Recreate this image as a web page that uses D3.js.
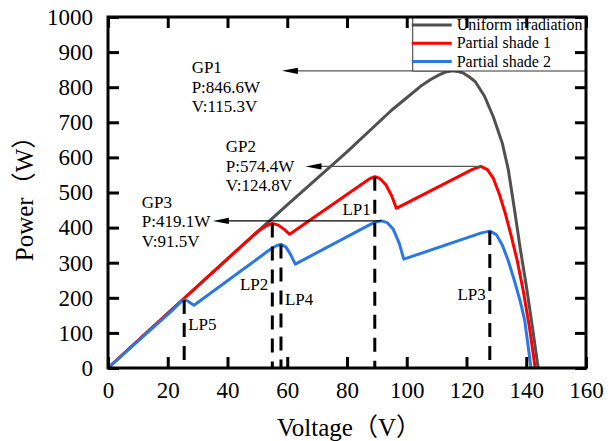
<!DOCTYPE html>
<html>
<head>
<meta charset="utf-8">
<script src="https://cdn.jsdelivr.net/npm/d3@7.9.0/dist/d3.min.js"></script>
<style>
  html, body { margin: 0; padding: 0; background: #fff; }
</style>
</head>
<body>
<svg id="chart" width="614" height="441"></svg>
<script>
// P-V curves: [voltage (V), power (W)]
const uniform = [[0,0],[20,156],[40,311],[60,465],[80,616],[95,735],[100,770],[105,805],[108,822],[111,836],[113,843],[115.3,846.6],
  [117,845],[119,840],[121,829],[123,815],[126,775],[129,715],[132,640],[134,565],[136,455],[138,340],[140,235],[142,120],[144,0]];
const shade1 = [[0,0],[20,156],[40,311],[50,388],[53,405],[55,412],[57,407],[59,395],[60.8,381],[86,530],[88,541],[89.3,545],
  [91,540],[93,522],[95,490],[96.5,455],[122,566],[124.8,574.4],[127,565],[129,540],[131,495],[133,440],[135,375],[137,305],
  [139,220],[141,120],[143,0]];
const shade2 = [[0,0],[22,168],[24.5,189],[25.5,194],[26.5,192],[27.5,186],[28.8,179],[54,336],[56.5,349],[57.9,352],
  [59.5,345],[61,325],[62.7,296],[88,410],[90,417],[91.5,419.1],[93.5,414],[95.5,395],[97.5,355],[99,310],[125,385],
  [127.8,390],[130,380],[132,350],[134,305],[136,250],[138,190],[139.5,135],[141.6,0]];

const seriesNames = ["Uniform irradiation", "Partial shade 1", "Partial shade 2"];
const seriesColors = ["#505050", "#ff0000", "#2b78e4"];

const xTicks = [0, 20, 40, 60, 80, 100, 120, 140, 160];
const yTicks = [0, 100, 200, 300, 400, 500, 600, 700, 800, 900, 1000];

// global peaks: name, V, P, arrow tip voltage, text position
const gpNames = ["GP1", "GP2", "GP3"];
const gpV = [115.3, 124.8, 91.5];
const gpP = [846.6, 574.4, 419.1];
const gpTipV = [58.2, 66.1, 35.1];
const gpTextV = [28.0, 39.4, 11.3];
const gpTextP = [840, 615, 456];
const gpLineColor = ["#555", "#555", "#000"];

// local peaks: dashed marker lines
const lpNames = ["LP1", "LP2", "LP3", "LP4", "LP5"];
const lpV = [89.3, 55.0, 127.8, 57.9, 25.5];
const lpP = [545, 412, 390, 352, 194];
const lpTextP = [436, 222, 194, 179, 108];
const lpAnchor = ["end", "end", "end", "start", "start"];

const serif = '"Liberation Serif", "Times New Roman", "Noto Sans CJK SC", serif';
const W = 614, H = 441;
const margin = { left: 108, right: 28, top: 17, bottom: 73 };
const svg = d3.select("#chart");

const x = d3.scaleLinear().domain([0, 160]).range([margin.left, W - margin.right]);
const y = d3.scaleLinear().domain([0, 1000]).range([H - margin.bottom, margin.top]);

const line = d3.line().x(d => x(d[0])).y(d => y(d[1]));

// curves
[uniform, shade1, shade2].forEach((data, i) => {
  svg.append("path")
    .attr("d", line(data))
    .attr("fill", "none")
    .attr("stroke", seriesColors[i])
    .attr("stroke-width", 3)
    .attr("stroke-linejoin", "round");
});

// dashed lines at local peaks
lpNames.forEach((n, i) => {
  svg.append("line")
    .attr("x1", x(lpV[i])).attr("x2", x(lpV[i]))
    .attr("y1", y(lpP[i])).attr("y2", y(0))
    .attr("stroke", "#000")
    .attr("stroke-width", 3)
    .attr("stroke-dasharray", "14,9");
  const off = lpAnchor[i] === "end" ? -4 : 4;
  svg.append("text")
    .attr("x", x(lpV[i]) + off)
    .attr("y", y(lpTextP[i]))
    .attr("text-anchor", lpAnchor[i])
    .style("font-family", serif)
    .style("font-size", "17px")
    .text(n);
});

// arrows pointing at the global peak labels
gpNames.forEach((n, i) => {
  const tip = x(gpTipV[i]), yy = y(gpP[i]);
  svg.append("line")
    .attr("x1", tip + 10).attr("x2", x(gpV[i]))
    .attr("y1", yy).attr("y2", yy)
    .attr("stroke", gpLineColor[i])
    .attr("stroke-width", 1.2);
  svg.append("path")
    .attr("d", `M${tip},${yy}L${tip + 16},${yy - 3.2}L${tip + 16},${yy + 3.2}Z`)
    .attr("fill", "#000");
  const t = svg.append("text")
    .attr("x", x(gpTextV[i]))
    .attr("y", y(gpTextP[i]))
    .style("font-family", serif)
    .style("font-size", "17px");
  [n, `P:${gpP[i]}W`, `V:${gpV[i]}V`].forEach((s, k) => {
    t.append("tspan").attr("x", x(gpTextV[i])).attr("dy", k === 0 ? 0 : 19.5).text(s);
  });
});

// legend
const lg = svg.append("g").attr("transform", `translate(${x(102)},${margin.top})`);
const lgW = x(160) - x(102);
lg.append("rect")
  .attr("width", lgW).attr("height", 54)
  .attr("fill", "#fff")
  .attr("stroke", "#333").attr("stroke-width", 1);
seriesNames.forEach((s, i) => {
  const ly = 8 + i * 18.3;
  lg.append("line")
    .attr("x1", -1).attr("x2", 39)
    .attr("y1", ly).attr("y2", ly)
    .attr("stroke", seriesColors[i]).attr("stroke-width", 3);
  lg.append("text")
    .attr("x", 44).attr("y", ly + 5)
    .style("font-family", serif)
    .style("font-size", "16px")
    .text(s);
});

// frame and ticks (inward, all four sides)
const tickLen = 11;
const fmt = d3.format("d");
const gx = svg.append("g").attr("transform", `translate(0,${y(0)})`)
  .call(d3.axisBottom(x).tickValues(xTicks).tickFormat(fmt).tickSizeInner(-tickLen).tickSizeOuter(0).tickPadding(14));
const gxTop = svg.append("g").attr("transform", `translate(0,${y(1000)})`)
  .call(d3.axisTop(x).tickValues(xTicks).tickSizeInner(-tickLen).tickSizeOuter(0).tickFormat(""));
const gy = svg.append("g").attr("transform", `translate(${x(0)},0)`)
  .call(d3.axisLeft(y).tickValues(yTicks).tickFormat(fmt).tickSizeInner(-tickLen).tickSizeOuter(0).tickPadding(15));
const gyR = svg.append("g").attr("transform", `translate(${x(160)},0)`)
  .call(d3.axisRight(y).tickValues(yTicks).tickSizeInner(-tickLen).tickSizeOuter(0).tickFormat(""));

[gx, gxTop, gy, gyR].forEach(g => {
  g.select(".domain").remove();
  g.selectAll(".tick line").attr("stroke", "#000").attr("stroke-width", 3);
  g.selectAll("text")
    .style("font-family", serif)
    .style("font-size", "23px")
    .attr("fill", "#000");
});

svg.append("rect")
  .attr("x", x(0)).attr("y", y(1000))
  .attr("width", x(160) - x(0)).attr("height", y(0) - y(1000))
  .attr("fill", "none")
  .attr("stroke", "#000").attr("stroke-width", 3);

// axis titles
svg.append("text")
  .attr("x", (x(0) + x(160)) / 2 + 2)
  .attr("y", 436)
  .attr("text-anchor", "middle")
  .style("font-family", serif)
  .style("font-size", "25px")
  .text("Voltage（V）");

svg.append("text")
  .attr("transform", `translate(33,${(y(0) + y(1000)) / 2}) rotate(-90)`)
  .attr("text-anchor", "middle")
  .style("font-family", serif)
  .style("font-size", "25px")
  .text("Power（W）");
</script>
</body>
</html>
